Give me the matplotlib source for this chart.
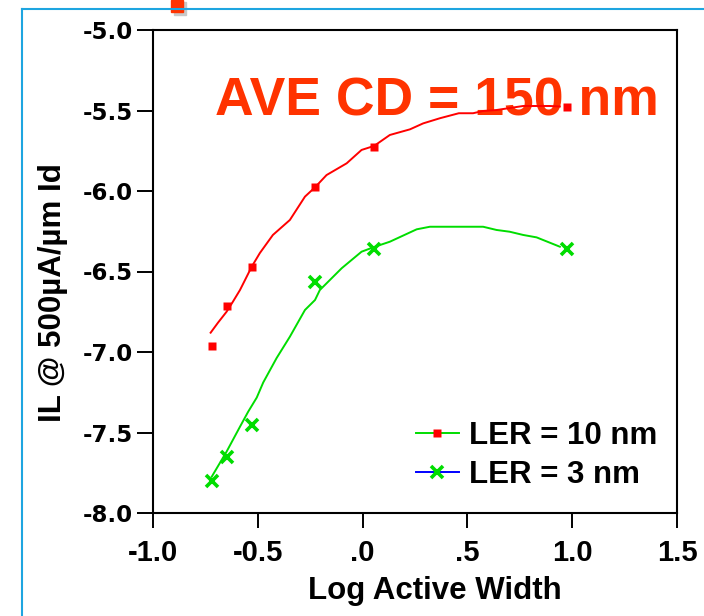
import matplotlib
matplotlib.use("Agg")
import matplotlib.pyplot as plt
from matplotlib.lines import Line2D
from matplotlib.patches import Rectangle

plt.rcParams['font.family'] = ['Liberation Sans', 'DejaVu Sans']
plt.rcParams['font.weight'] = 'bold'

# measured points
x_pts = [-0.719, -0.647, -0.528, -0.227, 0.055, 0.973]
ler10_pts = [-6.963, -6.714, -6.472, -5.975, -5.725, -5.476]
ler3_pts = [-7.801, -7.652, -7.453, -6.565, -6.360, -6.360]

# traced curves
ler10_x = [-0.725, -0.690, -0.649, -0.619, -0.585, -0.561, -0.529, -0.490, -0.428,
           -0.347, -0.275, -0.227, -0.172, -0.076, -0.005, 0.055, 0.130, 0.226,
           0.289, 0.369, 0.459, 0.527, 0.575, 0.639, 0.766, 0.893, 0.941]
ler10_y = [-6.880, -6.818, -6.750, -6.688, -6.615, -6.553, -6.470, -6.385, -6.273,
           -6.180, -6.035, -5.977, -5.901, -5.828, -5.745, -5.720, -5.652, -5.617,
           -5.580, -5.548, -5.517, -5.517, -5.503, -5.497, -5.472, -5.472, -5.475]
ler3_x = [-0.720, -0.649, -0.585, -0.546, -0.505, -0.474, -0.410, -0.347, -0.275,
          -0.227, -0.204, -0.100, -0.005, 0.059, 0.130, 0.258, 0.321, 0.575,
          0.639, 0.702, 0.766, 0.830, 0.941]
ler3_y = [-7.775, -7.619, -7.464, -7.371, -7.283, -7.189, -7.037, -6.905, -6.739,
          -6.677, -6.615, -6.480, -6.377, -6.346, -6.315, -6.238, -6.222, -6.222,
          -6.242, -6.253, -6.273, -6.288, -6.346]

xticks = [-1.0, -0.5, 0.0, 0.5, 1.0, 1.5]
xticklabels = ['-1.0', '-0.5', '.0', '.5', '1.0', '1.5']
yticks = [-5.0, -5.5, -6.0, -6.5, -7.0, -7.5, -8.0]
yticklabels = ['-5.0', '-5.5', '-6.0', '-6.5', '-7.0', '-7.5', '-8.0']

RED = '#ff0000'
GREEN = '#00dd00'

fig = plt.figure(figsize=(7.04, 6.16), dpi=100)
ax = fig.add_axes([153 / 704, 103 / 616, 524 / 704, 483 / 616])

ax.plot(ler10_x, ler10_y, color=RED, lw=1.4, zorder=3)
ax.plot(x_pts, ler10_pts, 's', color=RED, ms=6.2, mec='none', zorder=4)
ax.plot(ler3_x, ler3_y, color=GREEN, lw=1.4, zorder=3)
ax.plot(x_pts, ler3_pts, 'x', color=GREEN, ms=9, mew=2.6, zorder=4)

ax.text(-0.704, -5.528, 'AVE CD = 150 nm', color='#ff3300', fontsize=38.5,
        fontweight='bold', ha='left', va='baseline', zorder=1)

ax.set_xlim(-1.0, 1.5)
ax.set_ylim(-8.0, -5.0)
ax.set_xticks(xticks)
ax.set_xticklabels(xticklabels)
ax.set_yticks(yticks)
ax.set_yticklabels(yticklabels, family='DejaVu Sans', fontweight='bold')
ax.tick_params(axis='y', direction='out', length=11.5, width=1.4, pad=3,
               labelsize=16.5)
ax.tick_params(axis='x', direction='out', length=11, width=1.4, pad=8,
               labelsize=21)
for s in ax.spines.values():
    s.set_linewidth(1.5)

ax.set_xlabel('Log Active Width', fontsize=22.5, fontweight='bold', va='baseline')
ax.xaxis.set_label_coords((435 - 153) / 524, -0.178)
ax.set_ylabel('IL @ 500\u00b5A/\u00b5m Id', fontsize=22.5, fontweight='bold')
ax.yaxis.set_label_coords(-0.162, 0.4565)

handles = [Line2D([], [], color=GREEN, lw=1.4, marker='s', mfc=RED, mec='none', ms=6.2),
           Line2D([], [], color='#0000ff', lw=1.4, marker='x', mec=GREEN, ms=9, mew=2.6)]
ax.legend(handles, ['LER = 10 nm', 'LER = 3 nm'], loc='upper left',
          bbox_to_anchor=(0.502, 0.191), frameon=False, fontsize=22.5,
          borderpad=0, borderaxespad=0, handlelength=1.37, handletextpad=0.32,
          labelspacing=0.3, numpoints=1)

# slide frame and stray marker
fig.add_artist(Line2D([22 / 704, 22 / 704], [0, 1 - 9 / 616], color='#1ea5e0', lw=1.5))
fig.add_artist(Line2D([22 / 704, 1], [1 - 9 / 616, 1 - 9 / 616], color='#1ea5e0', lw=1.5))
fig.add_artist(Rectangle((174 / 704, 1 - 15 / 616), 12 / 704, 13 / 616,
                         transform=fig.transFigure, color='#c8c8c8'))
fig.add_artist(Rectangle((171 / 704, 1 - 12 / 616), 12 / 704, 12 / 616,
                         transform=fig.transFigure, color='#ff3300'))

fig.savefig('out.png', dpi=100, facecolor='white')
